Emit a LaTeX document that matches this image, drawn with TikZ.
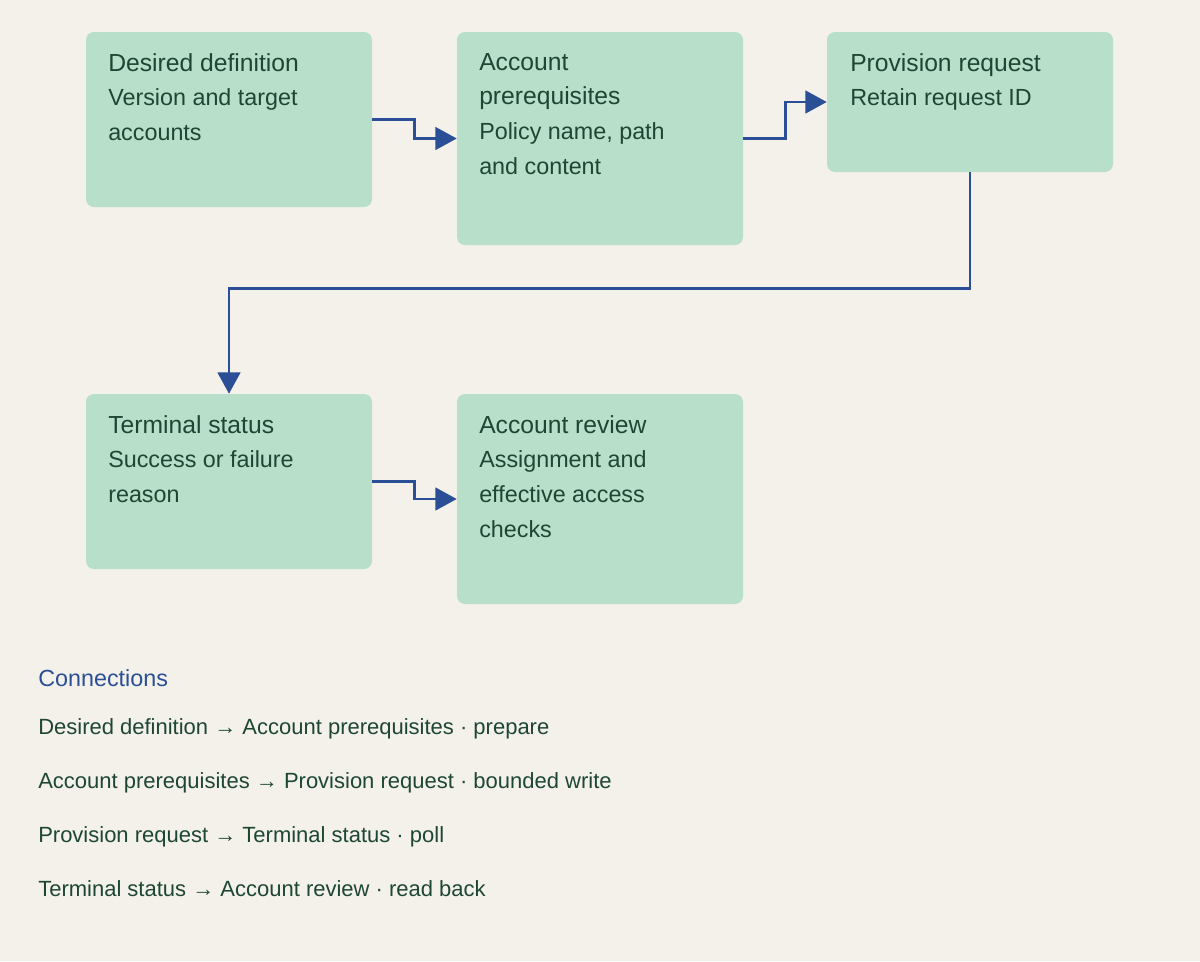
\documentclass[tikz,border=0pt]{standalone}
\usepackage{fontspec}
\setmainfont{Liberation Sans}
\usetikzlibrary{arrows.meta}
\definecolor{bgcol}{HTML}{F4F1EA}
\definecolor{boxcol}{HTML}{B8DFC9}
\definecolor{inkcol}{HTML}{1E4634}
\definecolor{linkcol}{HTML}{2A4F96}

\begin{document}
\begin{tikzpicture}[x=0.75pt,y=-0.75pt]
    \tikzstyle{stage}=[draw=none,fill=boxcol,rounded corners=6pt,minimum width=286*0.75pt,inner sep=0pt]
    \tikzstyle{txt}=[anchor=north west,inner sep=0pt,text=inkcol,align=left,font=\fontsize{17.5}{26}\selectfont]
    \tikzstyle{link}=[draw=linkcol,line width=1.9pt,-{Triangle[length=16pt,width=17pt]}]
    \tikzstyle{conn}=[anchor=base west,inner sep=0pt,text=inkcol,font=\fontsize{16.5}{20}\selectfont]

    \fill[bgcol] (0,0) rectangle (1200,961);

    % Draw the stages
    \node[stage,minimum height=175*0.75pt] (A) at (229,119.5) {};
    \node[stage,minimum height=213*0.75pt] (B) at (600,138.5) {};
    \node[stage,minimum height=140*0.75pt] (C) at (970,102) {};
    \node[stage,minimum height=175*0.75pt] (D) at (229,481.5) {};
    \node[stage,minimum height=210*0.75pt] (E) at (600,499) {};

    % Texts of the stages
    \node[txt] (A-t) at (108,53) {{\fontsize{18.5}{26}\selectfont Desired definition}\\Version and target\\accounts};
    \node[txt] (B-t) at (479,53) {{\fontsize{18.5}{26}\selectfont Account}\\{\fontsize{18.5}{26}\selectfont prerequisites}\\Policy name, path\\and content};
    \node[txt] (C-t) at (850,53) {{\fontsize{18.5}{26}\selectfont Provision request}\\Retain request ID};
    \node[txt] (D-t) at (108,415) {{\fontsize{18.5}{26}\selectfont Terminal status}\\Success or failure\\reason};
    \node[txt] (E-t) at (479,415) {{\fontsize{18.5}{26}\selectfont Account review}\\Assignment and\\effective access\\checks};

    % Connect the stages
    \draw[link] (A.east) -- ++(42,0) |- (B.west);
    \draw[link] (B.east) -- ++(42,0) |- (C.west);
    \draw[link] (C.south) -- ++(0,116) -| (D.north);
    \draw[link] (D.east) -- ++(42,0) |- (E.west);

    % List of connections
    \node[conn,text=linkcol,font=\fontsize{17.5}{20}\selectfont] (hd) at (38,686) {Connections};
    \node[conn] (c1) at (38,734) {Desired definition → Account prerequisites · prepare};
    \node[conn] (c2) at (38,788) {Account prerequisites → Provision request · bounded write};
    \node[conn] (c3) at (38,842) {Provision request → Terminal status · poll};
    \node[conn] (c4) at (38,896) {Terminal status → Account review · read back};
\end{tikzpicture}
\end{document}
